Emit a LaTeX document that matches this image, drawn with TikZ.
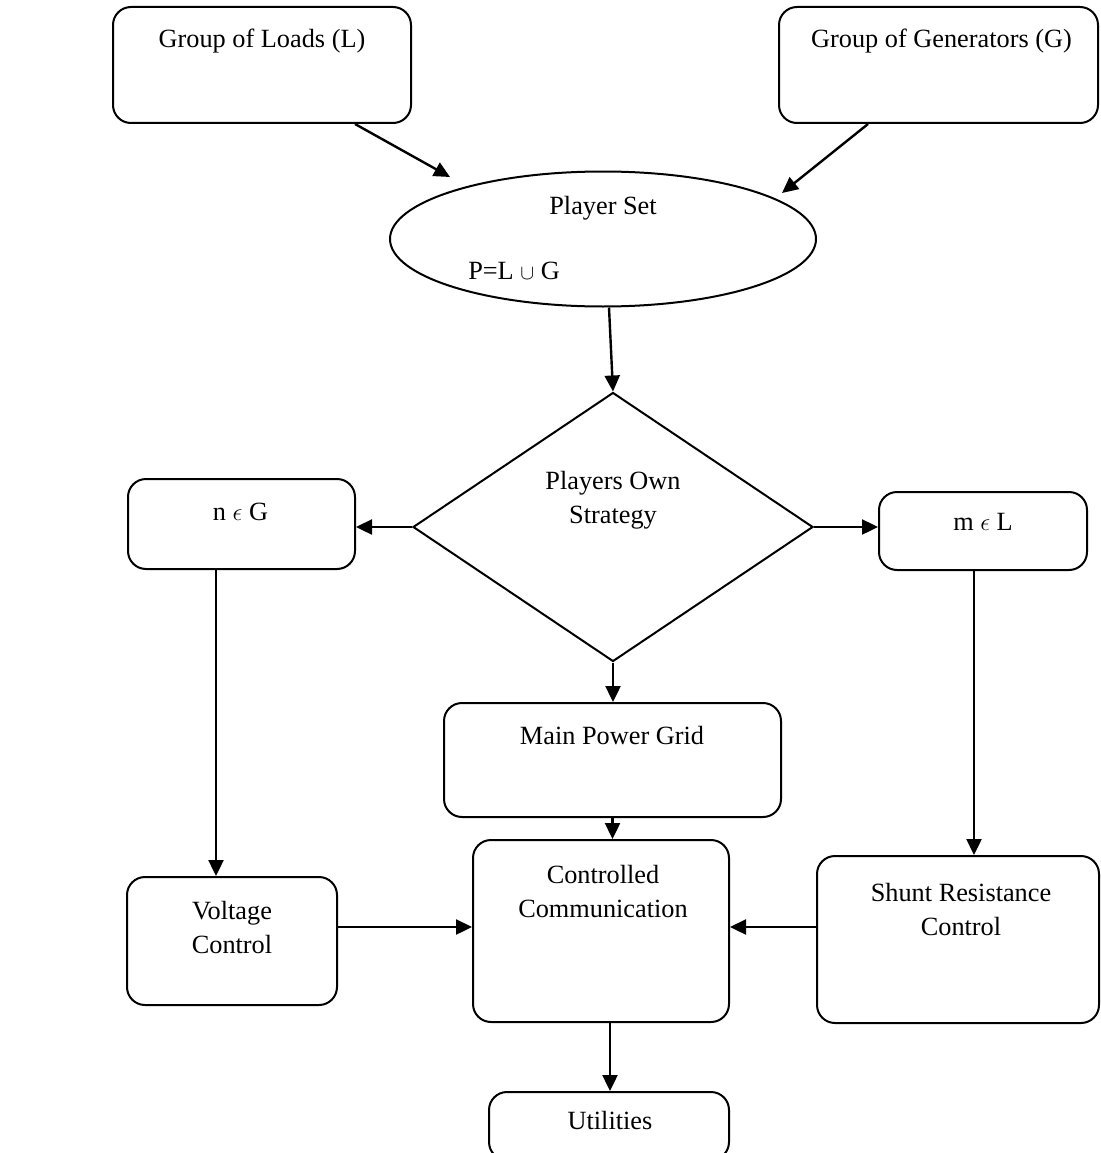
\documentclass[tikz,border=0pt]{standalone}
\usepackage{fontspec}
\setmainfont{Liberation Serif}
\usetikzlibrary{shapes.geometric,arrows.meta,calc}
\begin{document}
\begin{tikzpicture}[x=1pt,y=-1pt,
  box/.style={draw,line width=2pt,rounded corners=18pt,inner sep=0pt},
  shp/.style={draw,line width=2pt,inner sep=0pt},
  lbl/.style={inner sep=0pt,font=\fontsize{26.3}{34}\selectfont,align=center},
  arr/.style={line width=2.4pt,-{Triangle[length=16pt,width=15pt]}}]
\useasboundingbox (0,0) rectangle (1100,1153);
% shapes
\node[box,minimum width=298pt,minimum height=116pt] (loads) at (262,65) {};
\node[box,minimum width=319pt,minimum height=116pt] (gens) at (938.5,65) {};
\node[shp,ellipse,minimum width=426pt,minimum height=135pt] (ps) at (603,239) {};
\node[shp,diamond,minimum width=400pt,minimum height=269pt] (dia) at (613,527) {};
\node[box,minimum width=227pt,minimum height=90pt] (ng) at (241.5,524) {};
\node[box,minimum width=208pt,minimum height=78pt] (ml) at (983,531) {};
\node[box,minimum width=337pt,minimum height=114pt] (mpg) at (612.5,760) {};
\node[box,minimum width=256pt,minimum height=182pt] (cc) at (601,931) {};
\node[box,minimum width=210pt,minimum height=128pt] (volt) at (232,941) {};
\node[box,minimum width=282pt,minimum height=167pt] (shunt) at (958,939.5) {};
\node[box,minimum width=240pt,minimum height=68pt] (util) at (609,1126) {};
% texts
\node[lbl] (tloads) at (262,41) {Group of Loads (L)};
\node[lbl] (tgens) at (941.5,41) {Group of Generators (G)};
\node[lbl] (tps) at (603,208) {Player Set};
\node[lbl] (tpu) at (514,271) {P=L {\fontsize{21}{21}\selectfont$\cup$} G};
\node[lbl] (tdia) at (613,500) {Players Own\\Strategy};
\node[lbl] (tng) at (240.5,512) {n {\fontsize{25}{25}\selectfont$\epsilon$} G};
\node[lbl] (tml) at (983,522) {m {\fontsize{25}{25}\selectfont$\epsilon$} L};
\node[lbl] (tmpg) at (612,735) {Main Power Grid};
\node[lbl] (tcc) at (603,891) {Controlled\\Communication};
\node[lbl] (tvolt) at (232,927) {Voltage\\Control};
\node[lbl] (tshunt) at (961,909) {Shunt Resistance\\Control};
\node[lbl] (tutil) at (610,1120) {Utilities};
% connector end points
\coordinate (a1) at (450,177);
\coordinate (a2) at (782,193);
\coordinate (s1) at ($(loads.south)+(93,0)$);
\coordinate (s2) at ($(gens.south)+(-70.5,0)$);
\coordinate (s3) at ($(ps.south)+(6,0)$);
\coordinate (s4) at ($(ng.south)+(-25.5,0)$);
\coordinate (s5) at ($(ml.south)+(-9,0)$);
\coordinate (s6) at ($(volt.east)+(0,-14)$);
\coordinate (s7) at ($(shunt.west)+(0,-12.5)$);
\coordinate (s8) at ($(cc.south)+(9,0)$);
% connectors
\draw[arr] (s1) -- (a1);
\draw[arr] (s2) -- (a2);
\draw[arr] (s3) -- (dia.north);
\draw[arr] (dia.west) -- (dia.west -| ng.east);
\draw[arr] (dia.east) -- (dia.east -| ml.west);
\draw[arr] (dia.south) -- (dia.south |- mpg.north);
\draw[arr] (mpg.south) -- (mpg.south |- cc.north);
\draw[arr] (s4) -- (s4 |- volt.north);
\draw[arr] (s5) -- (s5 |- shunt.north);
\draw[arr] (s6) -- (s6 -| cc.west);
\draw[arr] (s7) -- (s7 -| cc.east);
\draw[arr] (s8) -- (s8 |- util.north);
\end{tikzpicture}
\end{document}
